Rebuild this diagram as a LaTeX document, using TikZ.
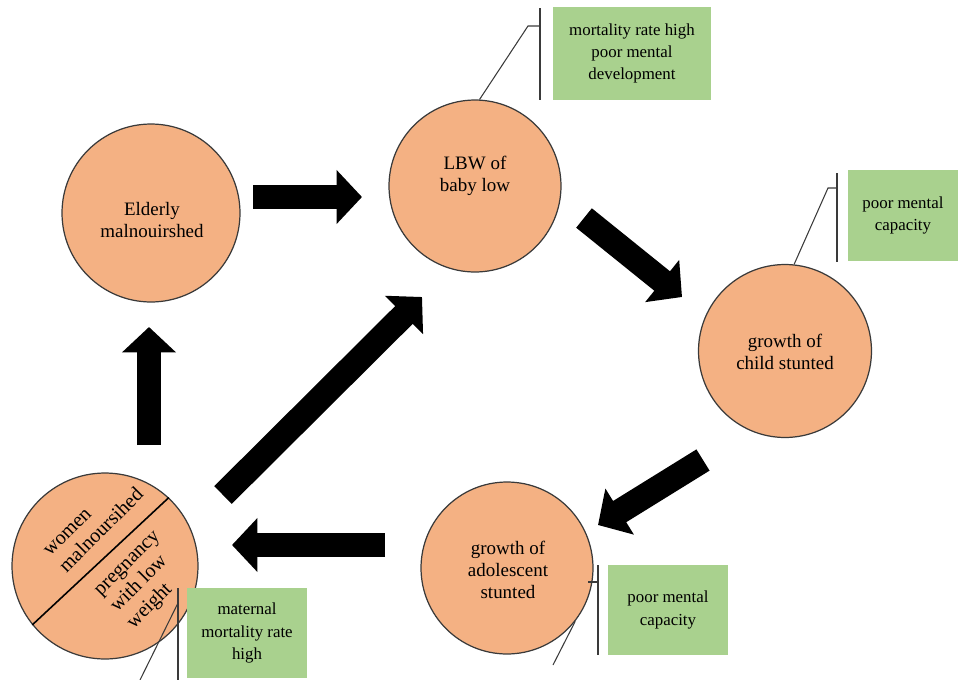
\documentclass[tikz,border=0pt]{standalone}
\usepackage{fontspec}
\setmainfont{Liberation Serif}
\usetikzlibrary{arrows.meta}
\definecolor{peach}{HTML}{F4B183}
\definecolor{leaf}{HTML}{A9D18E}
\definecolor{rim}{HTML}{3A3A3A}
\tikzset{
  phase/.style={circle, draw=rim, line width=0.7pt, fill=peach, inner sep=0pt},
  phasetext/.style={inner sep=0pt, align=center, font=\fontsize{10.8}{12.6}\selectfont},
  note/.style={rectangle, fill=leaf, inner sep=0pt, align=center,
    font=\fontsize{9.6}{12.6}\selectfont},
  slant/.style={rotate=45, align=left, inner sep=0pt, font=\fontsize{11.5}{13.2}\selectfont},
  bigarrow/.style={line width=14.2pt, -{Triangle[length=14.5pt, width=30pt]}},
  leader/.style={draw=rim, line width=0.6pt},
}
\begin{document}
\begin{tikzpicture}[x=0.02cm, y=-0.02cm]
\useasboundingbox (0,0) rectangle (958,680);
% circles
\node[phase, minimum size=3.56cm] (eld) at (151,213) {};
\node[phasetext] (eldt) at (152,220) {Elderly\\malnouirshed};
\node[phase, minimum size=3.44cm] (lbw) at (475,186) {};
\node[phasetext] (lbwt) at (475,176) {LBW of\\baby low};
\node[phase, minimum size=3.46cm] (child) at (785,351) {};
\node[phasetext] (childt) at (785,352) {growth of\\child stunted};
\node[phase, minimum size=3.44cm] (adol) at (507,568) {};
\node[phasetext] (adolt) at (508,570) {growth of\\adolescent\\stunted};
\node[phase, minimum size=3.72cm] (women) at (105,566) {};
\draw[draw=black, line width=0.9pt] (women.47) -- (women.219);
\node[slant] (wtop) at (94,523) {women\\malnoursihed};
\node[slant] (wbot) at (145,581) {pregnancy\\with low\\weight};
% notes
\node[note, minimum width=3.16cm, minimum height=1.86cm] (n1) at (632,53.5) {mortality rate high\\poor mental\\development};
\node[note, minimum width=2.2cm, minimum height=1.82cm] (n2) at (903,215.5) {poor mental\\capacity};
\node[note, minimum width=2.4cm, minimum height=1.8cm] (n3) at (668,610) {poor mental\\capacity};
\node[note, minimum width=2.4cm, minimum height=1.8cm] (n4) at (247,633) {maternal\\mortality rate\\high};
% leader lines
\coordinate (v1t) at (540,8);  \coordinate (v1b) at (540,100); \coordinate (k1) at (528,26);
\draw[leader] (v1t) -- (v1b);
\draw[leader] (lbw.87) -- (k1) -- (k1 -| v1t);
\coordinate (v2t) at (837,173); \coordinate (v2b) at (837,262); \coordinate (k2) at (828,188);
\draw[leader] (v2t) -- (v2b);
\draw[leader] (child.84) -- (k2) -- (k2 -| v2t);
\coordinate (v3t) at (598,565); \coordinate (v3b) at (598,655); \coordinate (k3) at (588,582); \coordinate (e3) at (553,665);
\draw[leader] (v3t) -- (v3b);
\draw[leader] (k3) -- (k3 -| v3t);
\draw[leader] (adol.-38) -- (e3);
\coordinate (v4t) at (178,588); \coordinate (v4b) at (178,680); \coordinate (k4) at (178,603); \coordinate (e4) at (140,680);
\draw[leader] (v4t) -- (v4b);
\draw[leader] (k4) -- (e4);
% arrows
\coordinate (a1s) at (253,197); \coordinate (a1e) at (362,197);
\coordinate (a2s) at (584,218); \coordinate (a2e) at (682,297);
\coordinate (a3s) at (703,460); \coordinate (a3e) at (598,525);
\coordinate (a4s) at (385,545); \coordinate (a4e) at (232,545);
\coordinate (a5s) at (223,495); \coordinate (a5e) at (422,297);
\coordinate (a6s) at (149,445); \coordinate (a6e) at (149,327);
\draw[bigarrow] (a1s) -- (a1e);
\draw[bigarrow] (a2s) -- (a2e);
\draw[bigarrow] (a3s) -- (a3e);
\draw[bigarrow] (a4s) -- (a4e);
\draw[bigarrow] (a5s) -- (a5e);
\draw[bigarrow] (a6s) -- (a6e);
\end{tikzpicture}
\end{document}
